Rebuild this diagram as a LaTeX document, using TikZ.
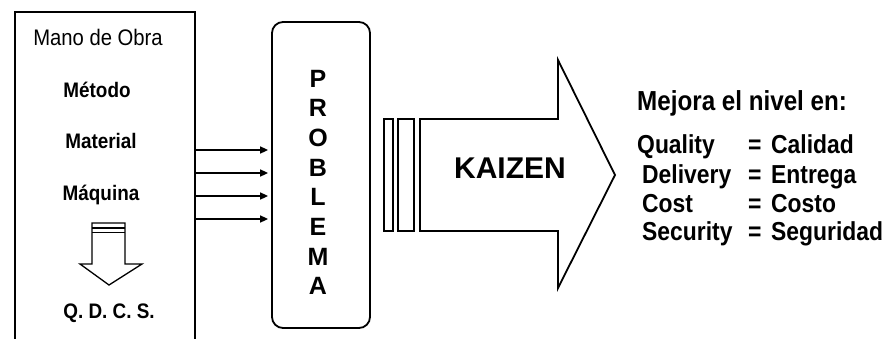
\documentclass[tikz,border=0pt]{standalone}
\usepackage{fontspec}
\setmainfont{Liberation Sans}
\newfontfamily\condleft[FakeStretch=0.9]{Liberation Sans}
\newfontfamily\condright[FakeStretch=0.88]{Liberation Sans}
\usetikzlibrary{arrows.meta}
\begin{document}
\begin{tikzpicture}[x=1pt,y=-1pt,
  line/.style={line width=1.8pt,line join=miter},
  lbl/.style={font=\condleft\fontsize{21}{21}\selectfont\bfseries,inner sep=0pt,anchor=base},
  rlbl/.style={font=\condright\fontsize{26}{26}\selectfont\bfseries,inner sep=0pt,anchor=base west},
  letter/.style={font=\fontsize{25}{25}\selectfont\bfseries,inner sep=0pt,anchor=base},
  feed/.style={line width=1.6pt,-{Triangle[length=8pt,width=7pt]}}]
\useasboundingbox (0,0) rectangle (891,338);
\clip (0,0) rectangle (891,338);
% left box
\node[line,draw,minimum width=180pt,minimum height=340pt,inner sep=0pt] (inputs) at (105,182) {};
\node[lbl,font=\condleft\fontsize{22.5}{22.5}\selectfont] (mo) at (98,45) {Mano de Obra};
\node[lbl] (met) at (97,97) {Método};
\node[lbl] (mat) at (101,148) {Material};
\node[lbl] (maq) at (101,200) {Máquina};
\node[lbl] (qdcs) at (109,318) {Q. D. C. S.};
% down block arrow
\draw[line width=1.3pt] (92,223) -- (125,223) -- (125,264) -- (142,264) -- (109,285) -- (80,264) -- (92,264) -- cycle;
\draw[line width=1.6pt] (92,228) -- (125,228);
\draw[line width=0.8pt] (92,232) -- (125,232);
% problema box
\node[line,draw,rounded corners=11pt,minimum width=98pt,minimum height=306pt,inner sep=0pt] (prob) at (321,175) {};
\foreach \c [count=\i] in {P,R,O,B,L,E,M,A}
  \node[letter] (l\i) at (318,{87+29.7*(\i-1)}) {\c};
% feed arrows
\foreach \y [count=\i] in {150,173,196,219}{
  \coordinate (s\i) at (inputs.east |- 0,\y);
  \coordinate (e\i) at (prob.west |- 0,\y);
  \draw[feed] (s\i) -- ([xshift=-3pt]e\i);
}
% kaizen arrow
\draw[line] (384,119) rectangle (393,231);
\draw[line] (398,119) rectangle (414,231);
\draw[line] (420,119) -- (558,119) -- (558,60) -- (615,175) -- (558,288) -- (558,231) -- (420,231) -- cycle;
\node[font=\fontsize{30}{30}\selectfont\bfseries,inner sep=0pt,anchor=base] (kaizen) at (510,178) {KAIZEN};
% right text
\node[rlbl,font=\condright\fontsize{27.5}{27.5}\selectfont\bfseries] (mej) at (637,110) {Mejora el nivel en:};
\node[rlbl] (q) at (637,153) {Quality};
\node[rlbl] (d) at (642,183) {Delivery};
\node[rlbl] (c) at (642,212) {Cost};
\node[rlbl] (s) at (642,240) {Security};
\foreach \y/\v/\n in {153/Calidad/cq,183/Entrega/cd,212/Costo/cc,240/Seguridad/cs}{
  \node[rlbl] (eq\n) at (748,\y) {=};
  \node[rlbl] (\n) at (771,\y) {\v};
}
\end{tikzpicture}
\end{document}
